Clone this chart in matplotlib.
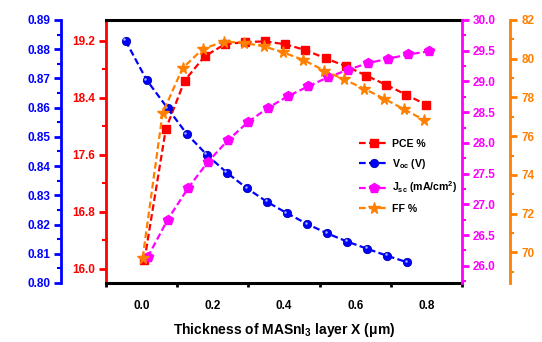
import numpy as np
import matplotlib
matplotlib.use('Agg')
import matplotlib.pyplot as plt
import matplotlib.transforms as mtransforms
from matplotlib.ticker import MultipleLocator, FixedLocator

plt.rcParams['font.family'] = ['Liberation Sans', 'DejaVu Sans']
plt.rcParams['font.weight'] = 'bold'
plt.rcParams['mathtext.fontset'] = 'custom'
plt.rcParams['mathtext.rm'] = 'Liberation Sans:bold'
plt.rcParams['mathtext.bf'] = 'Liberation Sans:bold'
plt.rcParams['mathtext.it'] = 'Liberation Sans:bold'

# data
x_pce = [0.008, 0.068, 0.121, 0.177, 0.234, 0.290, 0.346, 0.403, 0.459, 0.518, 0.575, 0.631, 0.687, 0.744, 0.800]
pce = [16.12, 17.96, 18.64, 18.98, 19.15, 19.18, 19.19, 19.15, 19.07, 18.95, 18.84, 18.71, 18.58, 18.44, 18.30]

x_voc = [-0.045, 0.014, 0.073, 0.127, 0.183, 0.239, 0.296, 0.352, 0.408, 0.465, 0.521, 0.577, 0.634, 0.690, 0.746]
voc = [0.8829, 0.8695, 0.8598, 0.8510, 0.8439, 0.8378, 0.8324, 0.8278, 0.8239, 0.8202, 0.8170, 0.8142, 0.8117, 0.8093, 0.8071]

x_jsc = [0.017, 0.073, 0.130, 0.186, 0.242, 0.299, 0.355, 0.411, 0.468, 0.524, 0.580, 0.637, 0.693, 0.749, 0.808]
jsc = [26.14, 26.75, 27.26, 27.69, 28.04, 28.34, 28.57, 28.76, 28.92, 29.07, 29.19, 29.30, 29.37, 29.44, 29.49]

x_ff = [0.003, 0.059, 0.115, 0.172, 0.231, 0.287, 0.344, 0.397, 0.454, 0.513, 0.569, 0.625, 0.682, 0.738, 0.792]
ff = [69.72, 77.19, 79.51, 80.51, 80.88, 80.82, 80.64, 80.33, 79.94, 79.39, 78.93, 78.45, 77.93, 77.38, 76.85]

xtick_labels = ['0.0', '0.2', '0.4', '0.6', '0.8']

RED = '#FF0000'
BLUE = '#0000FF'
MAG = '#FF00FF'
ORA = '#FF8000'
dash = (0, (3, 1.5))

fig = plt.figure(figsize=(5.42, 3.42), dpi=100)
ax = fig.add_axes([106/542, 1-283/342, 356/542, 263/342])
ax_v = ax.twinx()
ax_j = ax.twinx()
ax_f = ax.twinx()

l1, = ax.plot(x_pce, pce, color=RED, ls=dash, lw=1.6, marker='s', ms=5.5, mec=RED, label='PCE %')
l2, = ax_v.plot(x_voc, voc, color=BLUE, ls=dash, lw=1.6, marker='o', ms=6, mec='#0000AA', mew=0.6,
                label=r'V$_{\mathbf{oc}}$ (V)')
# little highlight on the blue balls
hl = mtransforms.offset_copy(ax_v.transData, fig=fig, x=-1.0, y=1.0, units='points')
ax_v.plot(x_voc, voc, ls='none', marker='o', ms=1.8, color='#9FB8FF', mew=0, transform=hl)
l3, = ax_j.plot(x_jsc, jsc, color=MAG, ls=dash, lw=1.6, marker='p', ms=7, mec=MAG,
                label=r'J$_{\mathbf{sc}}$ (mA/cm$^{\mathbf{2}}$)')
l4, = ax_f.plot(x_ff, ff, color=ORA, ls=dash, lw=1.6, marker='*', ms=8.5, mec=ORA, label='FF %')

ax.set_xlim(-0.1, 0.9)
ax.set_ylim(15.8, 19.49)
ax_v.set_ylim(0.80, 0.89)
ax_j.set_ylim(25.72, 30.0)
ax_f.set_ylim(68.42, 82)

# spines
for a in (ax, ax_v, ax_j, ax_f):
    for s in a.spines.values():
        s.set_visible(False)
ax.spines['top'].set_visible(True)
ax.spines['bottom'].set_visible(True)
ax.spines['top'].set_linewidth(2.2)
ax.spines['bottom'].set_linewidth(2.2)
ax.spines['left'].set_visible(True)
ax.spines['left'].set_color(RED)
ax.spines['left'].set_linewidth(2)

ax_v.yaxis.tick_left()
ax_v.yaxis.set_label_position('left')
ax_v.spines['left'].set_visible(True)
ax_v.spines['left'].set_position(('axes', -0.126))
ax_v.spines['left'].set_color(BLUE)
ax_v.spines['left'].set_linewidth(2)

ax_j.spines['right'].set_visible(True)
ax_j.spines['right'].set_color(MAG)
ax_j.spines['right'].set_linewidth(2)

ax_f.spines['right'].set_visible(True)
ax_f.spines['right'].set_position(('axes', 1.135))
ax_f.spines['right'].set_color(ORA)
ax_f.spines['right'].set_linewidth(2)

# ticks
ax.yaxis.set_major_locator(MultipleLocator(0.8))
ax.yaxis.set_minor_locator(MultipleLocator(0.4))
ax_v.yaxis.set_major_locator(MultipleLocator(0.01))
ax_v.yaxis.set_minor_locator(MultipleLocator(0.005))
ax_j.yaxis.set_major_locator(MultipleLocator(0.5))
ax_j.yaxis.set_minor_locator(MultipleLocator(0.25))
ax_f.yaxis.set_major_locator(MultipleLocator(2))
ax_f.yaxis.set_minor_locator(MultipleLocator(1))

ax.yaxis.set_major_formatter(plt.FormatStrFormatter('%.1f'))
ax_v.yaxis.set_major_formatter(plt.FormatStrFormatter('%.2f'))
ax_j.yaxis.set_major_formatter(plt.FormatStrFormatter('%.1f'))
ax_f.yaxis.set_major_formatter(plt.FormatStrFormatter('%d'))

for a, c in ((ax, RED), (ax_v, BLUE), (ax_j, MAG), (ax_f, ORA)):
    a.tick_params(axis='y', which='major', colors=c, labelcolor=c, length=5, width=2, labelsize=8.5, pad=3)
    a.tick_params(axis='y', which='minor', colors=c, length=3, width=1.5)
    for t in a.get_yticklabels():
        t.set_fontweight('bold')

ax.set_xticks([0.0, 0.2, 0.4, 0.6, 0.8])
ax.set_xticklabels(xtick_labels, fontweight='bold')
ax.xaxis.set_minor_locator(FixedLocator([-0.1, 0.1, 0.3, 0.5, 0.7, 0.9]))
ax.tick_params(axis='x', which='major', length=0, labelsize=8.5, pad=12, colors='black')
ax.tick_params(axis='x', which='minor', length=3, width=2, colors='black')
ax.set_xlabel(r'Thickness of MASnI$_{\mathbf{3}}$ layer X ($\mathbf{\mu}$m)', fontsize=10, fontweight='bold', labelpad=7)

leg = ax_f.legend(handles=[l1, l2, l3, l4], loc='upper left', bbox_to_anchor=(0.70, 0.565),
                  frameon=False, fontsize=7.6, handlelength=2.8, handletextpad=0.3, labelspacing=0.8,
                  borderaxespad=0)
for t in leg.get_texts():
    t.set_fontweight('bold')

fig.savefig('out.png', dpi=100)
